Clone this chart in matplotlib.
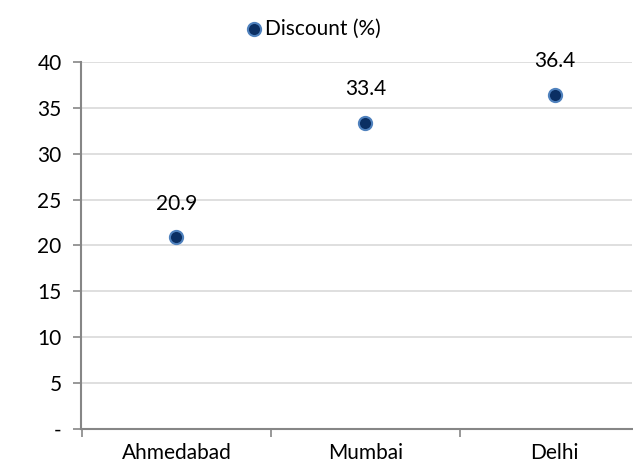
import matplotlib
matplotlib.use('Agg')
import matplotlib.pyplot as plt

cities = ['Ahmedabad', 'Mumbai', 'Delhi']
discount = [20.9, 33.4, 36.4]
y_ticks = [0, 5, 10, 15, 20, 25, 30, 35, 40]
y_tick_labels = ['-', '5', '10', '15', '20', '25', '30', '35', '40']

plt.rcParams['font.family'] = ['Lato', 'DejaVu Sans']

fig = plt.figure(figsize=(6.33, 4.67), dpi=100)
ax = fig.add_axes([81 / 633, 38 / 467, 551 / 633, 367 / 467])

x = list(range(1, len(cities) + 1))
ax.scatter(x, discount, s=90, color='#0b2f63', edgecolors='#4f81bd',
           linewidths=1.5, zorder=3, label='Discount (%)')
for xi, v in zip(x, discount):
    ax.annotate(f'{v}', (xi, v), xytext=(0, 17), textcoords='offset points',
                ha='center', va='bottom', fontsize=15)

ax.set_yticks(y_ticks)
ax.set_yticklabels(y_tick_labels)
ax.grid(axis='y', color='#d9d9d9', linewidth=1.2)
ax.set_axisbelow(True)

# category boundaries carry the tick marks, names sit between them
ax.set_xticks([0.5, 1.5, 2.5, 3.5])
ax.set_xticklabels([])
ax.set_xticks(x, minor=True)
ax.set_xticklabels(cities, minor=True)
ax.tick_params(axis='x', which='minor', length=0, pad=10, labelsize=15)
ax.tick_params(axis='x', which='major', length=6, color='#868686', width=1.2)
ax.tick_params(axis='y', length=6, color='#868686', width=1.2, labelsize=15, pad=8)

# limits after the ticks, otherwise set_xticks widens the view
ax.set_ylim(0, 40)
ax.set_xlim(0.495, 3.41)

for side in ['top', 'right']:
    ax.spines[side].set_visible(False)
for side in ['left', 'bottom']:
    ax.spines[side].set_color('#868686')
    ax.spines[side].set_linewidth(1.5)

fig.legend(loc='upper center', bbox_to_anchor=(0.495, 1.0), frameon=False,
           fontsize=15, handletextpad=0.1, handlelength=0.8, markerscale=1.0)

fig.savefig('out.png', dpi=100, facecolor='w')
